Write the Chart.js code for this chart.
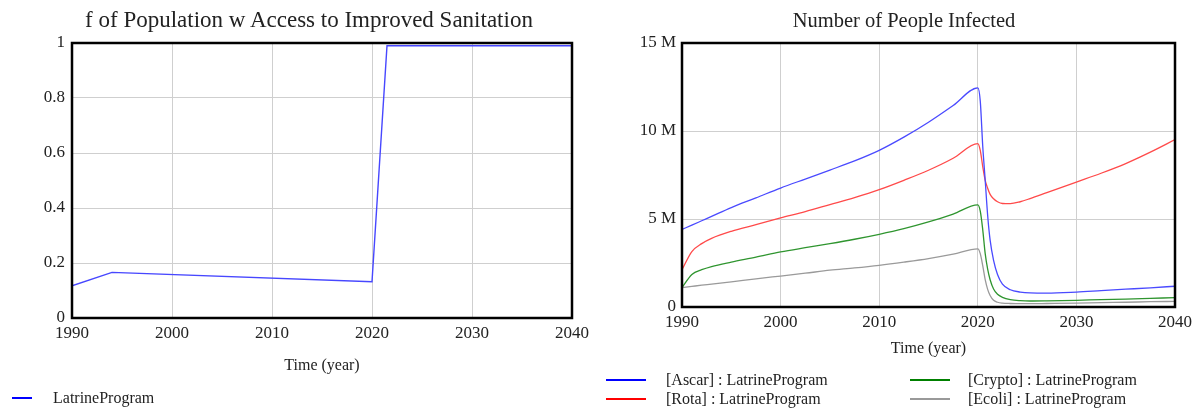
<!DOCTYPE html>
<html>
<head>
<meta charset="utf-8">
<script src="https://cdn.jsdelivr.net/npm/chart.js@4"></script>
<style>
  body { margin: 0; background: #fff; width: 1197px; height: 409px; overflow: hidden; position: relative; font-family: "Liberation Serif", serif; color: #222; }
  canvas { position: absolute; top: 0; }
  #sanitation { left: 0; }
  #infected { left: 600px; }
  .ttl { position: absolute; top: 6px; width: 600px; text-align: center; white-space: nowrap; line-height: 28px; }
  .leg { position: absolute; font-size: 16px; line-height: 18px; white-space: nowrap; }
  .leg i { position: absolute; height: 2px; top: 8px; }
</style>
</head>
<body>
<canvas id="sanitation" width="600" height="409"></canvas>
<canvas id="infected" width="597" height="409"></canvas>

<div class="ttl" style="left:9px; font-size:23px;">f of Population w Access to Improved Sanitation</div>
<div class="ttl" style="left:604px; font-size:20.5px;">Number of People Infected</div>

<div class="leg" style="left:12px; top:389px;"><i style="width:20px; background:#0000ff;"></i><span style="margin-left:41px;">LatrineProgram</span></div>

<div class="leg" style="left:606px; top:371px;"><i style="width:40px; background:#0000ff;"></i><span style="margin-left:60px;">[Ascar] : LatrineProgram</span></div>
<div class="leg" style="left:606px; top:390px;"><i style="width:40px; background:#ff0000;"></i><span style="margin-left:60px;">[Rota] : LatrineProgram</span></div>
<div class="leg" style="left:910px; top:371px;"><i style="width:40px; background:#008000;"></i><span style="margin-left:58px;">[Crypto] : LatrineProgram</span></div>
<div class="leg" style="left:910px; top:390px;"><i style="width:40px; background:#999999;"></i><span style="margin-left:58px;">[Ecoli] : LatrineProgram</span></div>

<script>
// left chart: fraction with improved sanitation
const sanYears = [1990, 1994, 2020, 2021.5, 2040];
const sanValues = [0.117, 0.166, 0.132, 0.99, 0.99];

// right chart: people infected (millions)
const years = [1990, 1991, 1992, 1993, 1995, 1997.5, 2000, 2002.5, 2005, 2007.5, 2010, 2012.5, 2015, 2017.5, 2020,
  2020.25, 2020.5, 2020.75, 2021, 2021.25, 2021.6, 2022, 2022.5, 2023.3, 2024.3, 2025.3, 2027, 2030, 2032.5, 2035, 2037.5, 2040];
const ascar = [4.41, 4.65, 4.9, 5.15, 5.65, 6.2, 6.76, 7.27, 7.78, 8.3, 8.9, 9.65, 10.5, 11.45, 12.45,
  11.7, 9.15, 7.2, 5.2, 3.8, 2.65, 1.85, 1.3, 0.98, 0.85, 0.8, 0.79, 0.85, 0.93, 1.01, 1.09, 1.18];
const rota = [2.12, 3.15, 3.6, 3.9, 4.3, 4.68, 5.06, 5.42, 5.82, 6.22, 6.67, 7.2, 7.77, 8.45, 9.28,
  8.9, 7.98, 7.2, 6.75, 6.4, 6.15, 5.98, 5.88, 5.87, 5.98, 6.16, 6.5, 7.1, 7.6, 8.15, 8.8, 9.51];
const crypto = [1.1, 1.85, 2.12, 2.3, 2.55, 2.83, 3.13, 3.37, 3.6, 3.85, 4.13, 4.45, 4.83, 5.28, 5.8,
  5.45, 4.4, 3.03, 2.15, 1.55, 1.02, 0.72, 0.55, 0.42, 0.36, 0.34, 0.35, 0.38, 0.42, 0.45, 0.49, 0.53];
const ecoli = [1.1, 1.17, 1.24, 1.3, 1.43, 1.6, 1.76, 1.92, 2.09, 2.22, 2.37, 2.55, 2.75, 3.0, 3.3,
  3.03, 2.35, 1.55, 1.0, 0.65, 0.38, 0.27, 0.22, 0.2, 0.19, 0.19, 0.2, 0.22, 0.25, 0.27, 0.3, 0.32];

const yearTicks = [1990, 2000, 2010, 2020, 2030, 2040];
const fractionTicks = [0, 0.2, 0.4, 0.6, 0.8, 1];
const millionTicks = [0, 5, 10, 15];

const serif = "'Liberation Serif', 'Times New Roman', serif";

// black box round the plot area
const frame = {
  id: "frame",
  afterDraw(chart) {
    const a = chart.chartArea, ctx = chart.ctx;
    ctx.save();
    ctx.strokeStyle = "#000";
    ctx.lineWidth = 2.5;
    ctx.strokeRect(a.left, a.top, a.right - a.left, a.bottom - a.top);
    ctx.restore();
  }
};

function pts(xs, ys, k) {
  return xs.map((x, i) => ({ x: x, y: ys[i] * k }));
}

function xAxis(h) {
  return {
    type: "linear", min: 1990, max: 2040,
    afterBuildTicks: s => { s.ticks = yearTicks.map(v => ({ value: v })); },
    afterFit: s => { s.height = h; },
    grid: { color: "#cfcfcf", drawTicks: false },
    border: { display: false },
    ticks: { color: "#222", font: { family: serif, size: 17 }, padding: 5, maxRotation: 0, callback: v => String(v) },
    title: { display: true, text: "Time (year)", color: "#222", font: { family: serif, size: 16 }, padding: { top: 0, bottom: 9 } }
  };
}

Chart.defaults.animation = false;

new Chart(document.getElementById("sanitation"), {
  type: "line",
  data: {
    datasets: [{
      label: "LatrineProgram",
      data: pts(sanYears, sanValues, 1),
      borderColor: "#4747ff",
      borderWidth: 1.4,
      pointRadius: 0,
      tension: 0
    }]
  },
  options: {
    responsive: false,
    layout: { padding: { left: 0, right: 28, top: 43, bottom: 25 } },
    plugins: { legend: { display: false }, tooltip: { enabled: false } },
    scales: {
      x: xAxis(66),
      y: {
        min: 0, max: 1,
        afterBuildTicks: s => { s.ticks = fractionTicks.map(v => ({ value: v })); },
        afterFit: s => { s.width = 72; },
        grid: { color: "#cfcfcf", drawTicks: false },
        border: { display: false },
        ticks: { color: "#222", font: { family: serif, size: 17 }, padding: 7, callback: v => String(Math.round(v * 10) / 10) }
      }
    }
  },
  plugins: [frame]
});

new Chart(document.getElementById("infected"), {
  type: "line",
  data: {
    datasets: [
      { label: "[Ascar] : LatrineProgram", data: pts(years, ascar, 1e6), borderColor: "#4a4aff" },
      { label: "[Rota] : LatrineProgram", data: pts(years, rota, 1e6), borderColor: "#ff4a4a" },
      { label: "[Crypto] : LatrineProgram", data: pts(years, crypto, 1e6), borderColor: "#2f952f" },
      { label: "[Ecoli] : LatrineProgram", data: pts(years, ecoli, 1e6), borderColor: "#9a9a9a" }
    ].map(d => Object.assign(d, { borderWidth: 1.3, pointRadius: 0, cubicInterpolationMode: "monotone" }))
  },
  options: {
    responsive: false,
    layout: { padding: { left: 0, right: 19, top: 43, bottom: 42 } },
    plugins: { legend: { display: false }, tooltip: { enabled: false } },
    scales: {
      x: xAxis(60),
      y: {
        min: 0, max: 15e6,
        afterBuildTicks: s => { s.ticks = millionTicks.map(v => ({ value: v * 1e6 })); },
        afterFit: s => { s.width = 82; },
        grid: { color: "#cfcfcf", drawTicks: false },
        border: { display: false },
        ticks: { color: "#222", font: { family: serif, size: 17 }, padding: 6, callback: v => v === 0 ? "0" : (v / 1e6) + " M" }
      }
    }
  },
  plugins: [frame]
});
</script>
</body>
</html>
